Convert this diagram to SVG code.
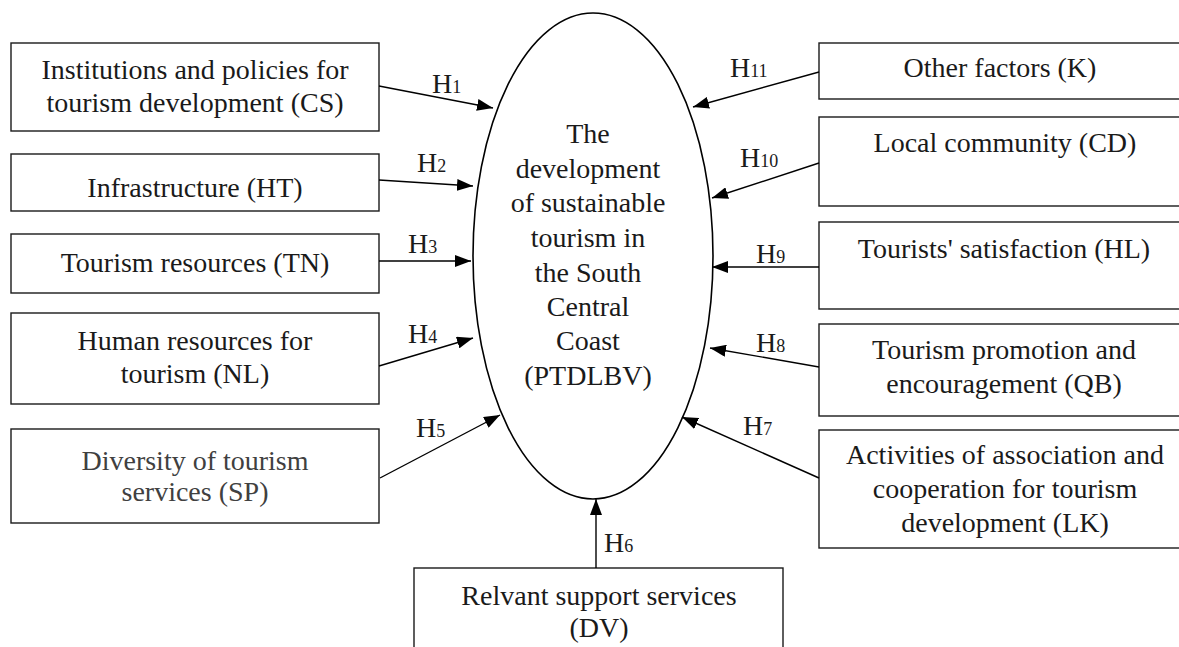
<svg xmlns="http://www.w3.org/2000/svg" width="1179" height="647" viewBox="0 0 1179 647">
<defs>
<style>
.box{fill:#fff;stroke:#1a1a1a;stroke-width:1.4}
.t{font-family:"Liberation Serif","Times New Roman",serif;font-size:28px;fill:#1a1a1a;text-anchor:middle}
.g{fill:#404040}
.h{font-family:"Liberation Serif","Times New Roman",serif;font-size:28px;fill:#1a1a1a}
.s{font-size:18px}
.c{stroke:#000;stroke-width:1.4;fill:none;marker-end:url(#ah)}
</style>
<marker id="ah" markerUnits="userSpaceOnUse" markerWidth="16" markerHeight="12" refX="16" refY="6" orient="auto">
<path d="M0,0 L16,6 L0,12 z" fill="#000"/>
</marker>
</defs>
<rect width="1179" height="647" fill="#fff"/>

<g id="center">
<ellipse cx="593" cy="256" rx="120" ry="243" fill="#fff" stroke="#000" stroke-width="1.6"/>
<text class="t" x="588" y="143">The</text>
<text class="t" x="588" y="178">development</text>
<text class="t" x="588" y="212">of sustainable</text>
<text class="t" x="588" y="247">tourism in</text>
<text class="t" x="588" y="282">the South</text>
<text class="t" x="588" y="316">Central</text>
<text class="t" x="588" y="350">Coast</text>
<text class="t" x="588" y="385">(PTDLBV)</text>
</g>

<g id="CS">
<rect class="box" x="11" y="43" width="368" height="88"/>
<text class="t" x="195" y="79">Institutions and policies for</text>
<text class="t" x="195" y="112">tourism development (CS)</text>
</g>
<g id="HT">
<rect class="box" x="11" y="154" width="368" height="57"/>
<text class="t" x="195" y="197">Infrastructure (HT)</text>
</g>
<g id="TN">
<rect class="box" x="11" y="234" width="368" height="59"/>
<text class="t" x="195" y="272">Tourism resources (TN)</text>
</g>
<g id="NL">
<rect class="box" x="11" y="313" width="368" height="91"/>
<text class="t" x="195" y="350">Human resources for</text>
<text class="t" x="195" y="383">tourism (NL)</text>
</g>
<g id="SP">
<rect class="box" x="11" y="429" width="368" height="94"/>
<text class="t g" x="195" y="470">Diversity of tourism</text>
<text class="t g" x="195" y="501">services (SP)</text>
</g>

<g id="K">
<rect class="box" x="819" y="43" width="372" height="56"/>
<text class="t" x="1000" y="77">Other factors (K)</text>
</g>
<g id="CD">
<rect class="box" x="819" y="117" width="372" height="89"/>
<text class="t" x="1005" y="152">Local community (CD)</text>
</g>
<g id="HL">
<rect class="box" x="819" y="222" width="372" height="87"/>
<text class="t" x="1004" y="258">Tourists' satisfaction (HL)</text>
</g>
<g id="QB">
<rect class="box" x="819" y="324" width="372" height="92"/>
<text class="t" x="1004" y="359">Tourism promotion and</text>
<text class="t" x="1004" y="393">encouragement (QB)</text>
</g>
<g id="LK">
<rect class="box" x="819" y="430" width="372" height="118"/>
<text class="t" x="1005" y="464">Activities of association and</text>
<text class="t" x="1005" y="498">cooperation for tourism</text>
<text class="t" x="1005" y="532">development (LK)</text>
</g>
<g id="DV">
<rect class="box" x="414" y="568" width="369" height="100"/>
<text class="t" x="599" y="605">Relvant support services</text>
<text class="t" x="599" y="637">(DV)</text>
</g>

<g id="connectors">
<line class="c" x1="379" y1="86" x2="493" y2="108"/>
<line class="c" x1="379" y1="180" x2="473" y2="186"/>
<line class="c" x1="379" y1="261" x2="471" y2="261"/>
<line class="c" x1="379" y1="366" x2="473" y2="338"/>
<line class="c" x1="380" y1="478" x2="500" y2="415"/>
<line class="c" x1="596" y1="568" x2="596" y2="499"/>
<line class="c" x1="819" y1="478" x2="682" y2="417"/>
<line class="c" x1="819" y1="367" x2="710" y2="348"/>
<line class="c" x1="819" y1="267" x2="712" y2="267"/>
<line class="c" x1="819" y1="163" x2="712" y2="198"/>
<line class="c" x1="819" y1="72" x2="693" y2="107"/>
</g>

<g id="labels">
<text class="h" x="432" y="93">H<tspan class="s">1</tspan></text>
<text class="h" x="417" y="172">H<tspan class="s">2</tspan></text>
<text class="h" x="408" y="253">H<tspan class="s">3</tspan></text>
<text class="h" x="408" y="343">H<tspan class="s">4</tspan></text>
<text class="h" x="416" y="437">H<tspan class="s">5</tspan></text>
<text class="h" x="604" y="552">H<tspan class="s">6</tspan></text>
<text class="h" x="743" y="435">H<tspan class="s">7</tspan></text>
<text class="h" x="756" y="352">H<tspan class="s">8</tspan></text>
<text class="h" x="756" y="263">H<tspan class="s">9</tspan></text>
<text class="h" x="740" y="167">H<tspan class="s">10</tspan></text>
<text class="h" x="730" y="77">H<tspan class="s">11</tspan></text>
</g>
</svg>
